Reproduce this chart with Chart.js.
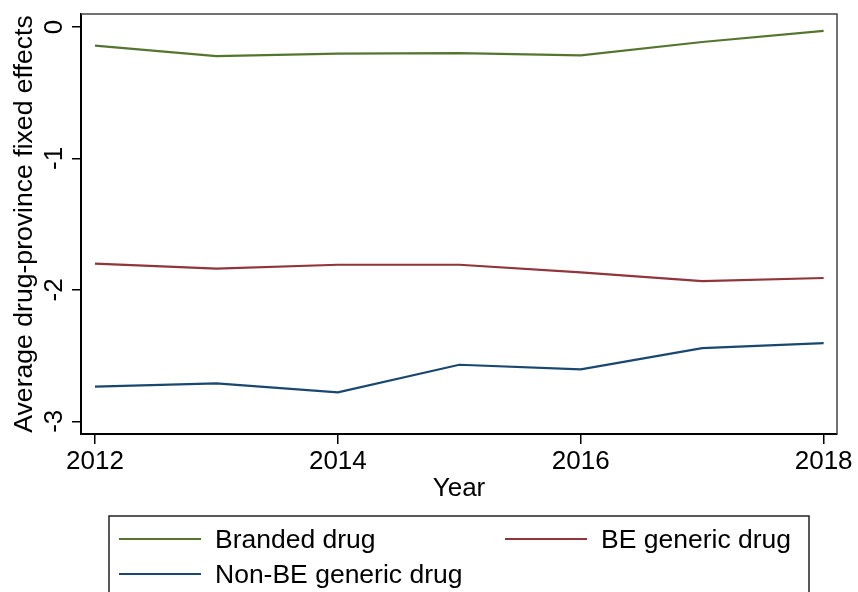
<!DOCTYPE html>
<html>
<head>
<meta charset="utf-8">
<script src="https://cdn.jsdelivr.net/npm/chart.js@4/dist/chart.umd.min.js"></script>
<style>
  html, body { margin: 0; padding: 0; background: #fff; }
  #wrap { width: 858px; height: 592px; position: relative; }
</style>
</head>
<body>
<div id="wrap"><canvas id="c" width="858" height="592"></canvas></div>
<script>
// Yearly averages of the drug-province fixed effects, by drug type
const years = [2012, 2013, 2014, 2015, 2016, 2017, 2018];
const branded = [-0.142, -0.221, -0.203, -0.198, -0.216, -0.114, -0.030];
const beGeneric = [-1.801, -1.839, -1.809, -1.809, -1.867, -1.933, -1.910];
const nonBeGeneric = [-2.737, -2.712, -2.780, -2.570, -2.605, -2.443, -2.405];

const seriesNames = ['Branded drug', 'BE generic drug', 'Non-BE generic drug'];
const seriesColors = ['#55752f', '#90353b', '#1a476f'];

const xTicks = [2012, 2014, 2016, 2018];
const yTicks = [0, -1, -2, -3];
const yTickLabels = ['0', '-1', '-2', '-3'];

const FONT = '"Liberation Sans", Arial, Helvetica, sans-serif';
const FS = 26;

function toPoints(vals) {
  return years.map((y, i) => ({ x: y, y: vals[i] }));
}

const datasets = [branded, beGeneric, nonBeGeneric].map((vals, i) => ({
  label: seriesNames[i],
  data: toPoints(vals),
  borderColor: seriesColors[i],
  backgroundColor: seriesColors[i],
  borderWidth: 2.2,
  pointRadius: 0,
  tension: 0,
  fill: false
}));

// Frame, rotated y tick labels and the boxed legend underneath
const decorations = {
  id: 'decorations',
  afterDraw(chart) {
    const ctx = chart.ctx;
    const a = chart.chartArea;
    ctx.save();
    // top and right sides of the plot frame
    ctx.strokeStyle = '#444';
    ctx.lineWidth = 1.5;
    ctx.beginPath();
    ctx.moveTo(a.left, a.top);
    ctx.lineTo(a.right, a.top);
    ctx.lineTo(a.right, a.bottom);
    ctx.stroke();

    // vertical y tick labels
    const ys = chart.scales.y;
    ctx.fillStyle = '#000';
    ctx.font = FS + 'px ' + FONT;
    ctx.textAlign = 'center';
    ctx.textBaseline = 'alphabetic';
    yTicks.forEach((v, i) => {
      const py = ys.getPixelForValue(v);
      ctx.save();
      ctx.translate(62, py);
      ctx.rotate(-Math.PI / 2);
      ctx.fillText(yTickLabels[i], 0, 0);
      ctx.restore();
    });

    // legend box
    ctx.strokeStyle = '#222';
    ctx.lineWidth = 1.5;
    ctx.strokeRect(109, 516, 700, 100);
    const slots = [
      { x: 119, y: 539 },
      { x: 505, y: 539 },
      { x: 119, y: 574 }
    ];
    ctx.font = '26.5px ' + FONT;
    chart.data.datasets.forEach((ds, i) => {
      const s = slots[i];
      ctx.strokeStyle = ds.borderColor;
      ctx.lineWidth = 2;
      ctx.beginPath();
      ctx.moveTo(s.x, s.y);
      ctx.lineTo(s.x + 82, s.y);
      ctx.stroke();
      ctx.fillStyle = '#000';
      ctx.textAlign = 'left';
      ctx.textBaseline = 'alphabetic';
      ctx.fillText(ds.label, s.x + 96, s.y + 9);
    });
    ctx.restore();
  }
};

new Chart(document.getElementById('c'), {
  type: 'line',
  data: { datasets },
  options: {
    responsive: false,
    animation: false,
    events: [],
    layout: { padding: { left: 0, top: 14, right: 21, bottom: 88 } },
    plugins: { legend: { display: false }, tooltip: { enabled: false } },
    scales: {
      x: {
        type: 'linear',
        min: 2011.885,
        max: 2018.11,
        afterBuildTicks(scale) { scale.ticks = xTicks.map(v => ({ value: v })); },
        afterFit(scale) {
          scale.height = 70;
          scale.paddingLeft = 0;
          scale.paddingRight = 0;
        },
        grid: { display: true, drawOnChartArea: false, drawTicks: true, tickLength: 10, color: '#000', lineWidth: 1.5 },
        border: { display: true, color: '#000', width: 2 },
        ticks: {
          autoSkip: false,
          maxRotation: 0,
          minRotation: 0,
          padding: 2,
          color: '#000',
          font: { family: FONT, size: FS },
          callback: v => String(v)
        },
        title: {
          display: true,
          text: 'Year',
          color: '#000',
          font: { family: FONT, size: FS },
          padding: { top: 0, bottom: 0 }
        }
      },
      y: {
        type: 'linear',
        min: -3.097,
        max: 0.099,
        afterBuildTicks(scale) { scale.ticks = yTicks.map(v => ({ value: v })); },
        afterFit(scale) {
          scale.width = 81;
          scale.paddingTop = 0;
          scale.paddingBottom = 0;
        },
        grid: { display: true, drawOnChartArea: false, drawTicks: true, tickLength: 9, color: '#000', lineWidth: 1.5 },
        border: { display: true, color: '#000', width: 2 },
        ticks: { display: false },
        title: {
          display: true,
          text: 'Average drug-province fixed effects',
          color: '#000',
          font: { family: FONT, size: 26.6 },
          padding: { top: 9, bottom: 0 }
        }
      }
    }
  },
  plugins: [decorations]
});
</script>
</body>
</html>
